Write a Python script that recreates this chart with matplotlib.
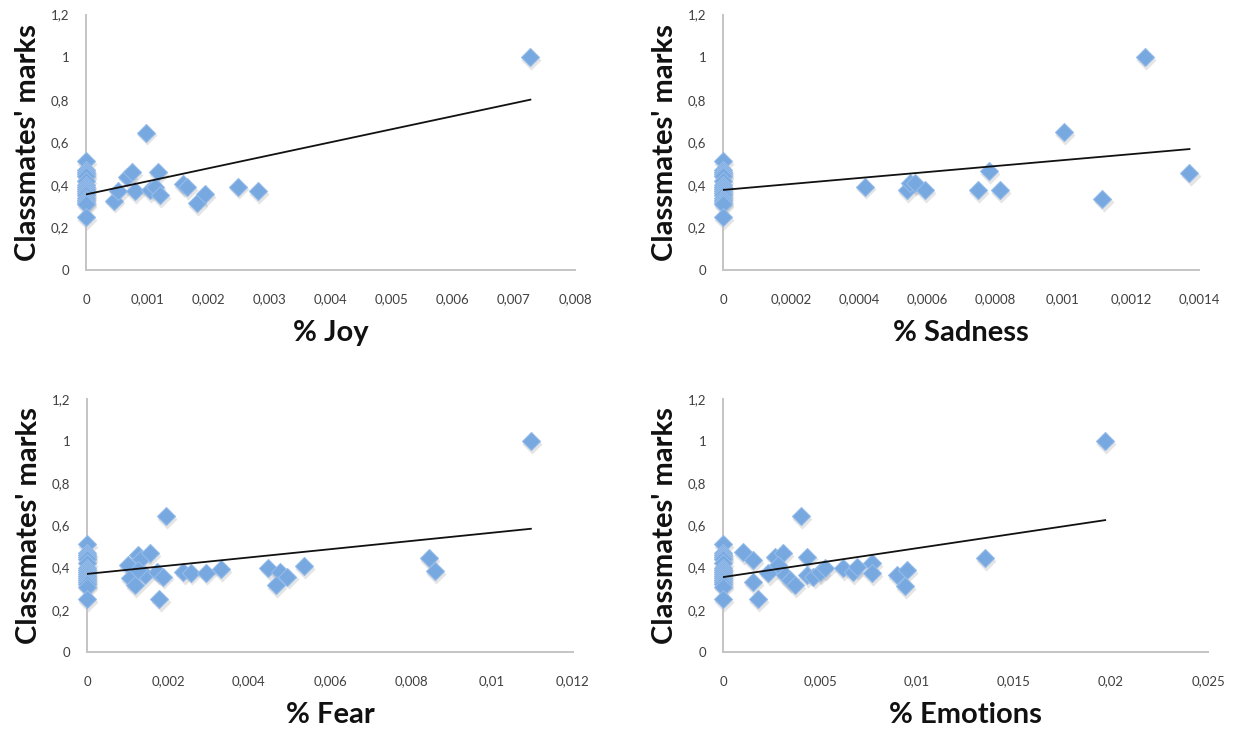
import matplotlib
matplotlib.use("Agg")
import matplotlib.pyplot as plt
import matplotlib.transforms as mtransforms

plt.rcParams['font.family'] = ['Lato', 'DejaVu Sans']

# ---------------- data ----------------
y_ticks = [0, 0.2, 0.4, 0.6, 0.8, 1.0, 1.2]
y_ticklabels = ["0", "0,2", "0,4", "0,6", "0,8", "1", "1,2"]
y_label = "Classmates' marks"

zero_marks = [0.51, 0.47, 0.46, 0.45, 0.44, 0.42, 0.40, 0.39, 0.38,
              0.37, 0.36, 0.35, 0.34, 0.33, 0.32, 0.31, 0.25]

joy_x = [0.00045, 0.00053, 0.00067, 0.00075, 0.0008, 0.00098, 0.00105,
         0.00113, 0.00117, 0.00121, 0.00159, 0.00165, 0.00181, 0.00195,
         0.00249, 0.00281, 0.00727]
joy_y = [0.326, 0.369, 0.439, 0.458, 0.369, 0.645, 0.376,
         0.392, 0.458, 0.353, 0.405, 0.389, 0.314, 0.358,
         0.392, 0.369, 1.0]
joy_trend_x = [0.0, 0.00727]
joy_trend_y = [0.355, 0.80]
joy_xticks = [0, 0.001, 0.002, 0.003, 0.004, 0.005, 0.006, 0.007, 0.008]
joy_xticklabels = ["0", "0,001", "0,002", "0,003", "0,004", "0,005", "0,006", "0,007", "0,008"]

sad_x = [0.000418, 0.00054, 0.00055, 0.000565, 0.000594, 0.000751, 0.000782,
         0.000815, 0.001003, 0.001116, 0.00124, 0.001372]
sad_y = [0.392, 0.376, 0.41, 0.408, 0.376, 0.376, 0.463,
         0.376, 0.646, 0.333, 1.0, 0.455]
sad_trend_x = [0.0, 0.001372]
sad_trend_y = [0.376, 0.568]
sad_xticks = [0, 0.0002, 0.0004, 0.0006, 0.0008, 0.001, 0.0012, 0.0014]
sad_xticklabels = ["0", "0,0002", "0,0004", "0,0006", "0,0008", "0,001", "0,0012", "0,0014"]

fear_x = [0.00102, 0.00106, 0.00119, 0.00127, 0.00133, 0.00156, 0.00143,
          0.00127, 0.00174, 0.00188, 0.00179, 0.00195, 0.00238, 0.00256,
          0.00294, 0.0033, 0.00448, 0.00477, 0.00467, 0.00495, 0.00536,
          0.00845, 0.00859, 0.01096]
fear_y = [0.412, 0.349, 0.318, 0.46, 0.44, 0.47, 0.365,
          0.39, 0.38, 0.357, 0.25, 0.645, 0.38, 0.376,
          0.376, 0.392, 0.397, 0.38, 0.318, 0.357, 0.408,
          0.444, 0.385, 1.0]
fear_trend_x = [0.0, 0.01096]
fear_trend_y = [0.37, 0.584]
fear_xticks = [0, 0.002, 0.004, 0.006, 0.008, 0.01, 0.012]
fear_xticklabels = ["0", "0,002", "0,004", "0,006", "0,008", "0,01", "0,012"]

emo_x = [0.00402, 0.00105, 0.00153, 0.00156, 0.00182, 0.00234, 0.00268,
         0.00311, 0.00285, 0.0032, 0.00345, 0.00371, 0.00431, 0.00431,
         0.00466, 0.005, 0.00526, 0.0062, 0.00672, 0.00689, 0.00766,
         0.00766, 0.00895, 0.00947, 0.00938, 0.0135, 0.0197]
emo_y = [0.645, 0.475, 0.436, 0.333, 0.25, 0.373, 0.452,
         0.468, 0.412, 0.365, 0.341, 0.318, 0.452, 0.365,
         0.357, 0.38, 0.397, 0.397, 0.38, 0.404, 0.42,
         0.373, 0.365, 0.389, 0.313, 0.445, 1.0]
emo_trend_x = [0.0, 0.0197]
emo_trend_y = [0.355, 0.625]
emo_xticks = [0, 0.005, 0.01, 0.015, 0.02, 0.025]
emo_xticklabels = ["0", "0,005", "0,01", "0,015", "0,02", "0,025"]

panels = [
    ("% Joy", joy_x, joy_y, joy_trend_x, joy_trend_y, joy_xticks, joy_xticklabels),
    ("% Sadness", sad_x, sad_y, sad_trend_x, sad_trend_y, sad_xticks, sad_xticklabels),
    ("% Fear", fear_x, fear_y, fear_trend_x, fear_trend_y, fear_xticks, fear_xticklabels),
    ("% Emotions", emo_x, emo_y, emo_trend_x, emo_trend_y, emo_xticks, emo_xticklabels),
]

# ---------------- layout ----------------
W, H = 1239, 729
fig = plt.figure(figsize=(W / 100, H / 100), dpi=100)

# (left px, right px, bottom px (y=0), top px (y=1.2))
boxes = [
    (86, 575, 270, 14.5),
    (723, 1199, 270, 14.5),
    (87, 573, 652, 398.8),
    (723, 1208, 652, 398.8),
]

face = '#78A8E0'
edge = '#94BAE8'

for (xl, xs, ys, tx, ty, xt, xtl), (l, r, b, t) in zip(panels, boxes):
    ax = fig.add_axes([l / W, 1 - b / H, (r - l) / W, (b - t) / H])
    ax.set_xlim(xt[0], xt[-1])
    ax.set_ylim(0, 1.2)
    allx = [0.0] * len(zero_marks) + list(xs)
    ally = list(zero_marks) + list(ys)
    # soft shadow
    sh = mtransforms.offset_copy(ax.transData, fig=fig, x=0.8, y=-2.0, units='points')
    ax.plot(allx, ally, linestyle='none', marker='D', markersize=10,
            markerfacecolor='#606060', markeredgecolor='none', alpha=0.16,
            transform=sh, zorder=2, clip_on=False)
    ax.plot(allx, ally, linestyle='none', marker='D', markersize=9.6,
            markerfacecolor=face, markeredgecolor=edge, markeredgewidth=0.8,
            zorder=3, clip_on=False)
    ax.plot(tx, ty, color='#111111', linewidth=1.3, zorder=4)

    for s in ['top', 'right']:
        ax.spines[s].set_visible(False)
    for s in ['left', 'bottom']:
        ax.spines[s].set_color('#C4C4C4')
        ax.spines[s].set_linewidth(1.4)
    ax.set_xticks(xt)
    ax.set_xticklabels(xtl)
    ax.set_yticks(y_ticks)
    ax.set_yticklabels(y_ticklabels)
    ax.tick_params(axis='both', length=0, labelsize=9.5, labelcolor='#404040')
    ax.tick_params(axis='x', pad=17)
    ax.tick_params(axis='y', pad=12)

    wpx = r - l
    hpx = b - t
    ax.set_xlabel(xl, fontsize=21, fontweight='bold', color='#111111')
    ax.xaxis.set_label_coords(0.5, -63 / hpx)
    ax.xaxis.label.set_va('center')
    ax.set_ylabel(y_label, fontsize=21, fontweight='bold', color='#111111')
    ax.yaxis.set_label_coords(-58 / wpx, 0.5)
    ax.yaxis.label.set_va('center')

fig.savefig('out.png', dpi=100)
